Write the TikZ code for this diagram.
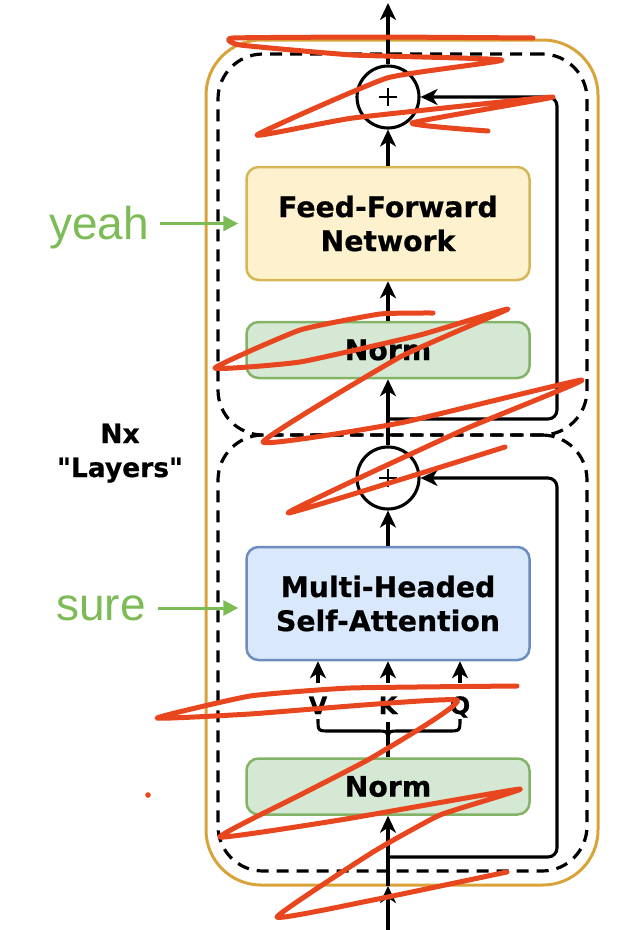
\documentclass[tikz,border=0pt]{standalone}
\usepackage{fontspec}
\newfontfamily\boxfont{DejaVu Sans}[BoldFeatures={FakeBold=0.6}]
\newfontfamily\lblfont{Liberation Sans}
\usetikzlibrary{arrows.meta}
\definecolor{goldc}{HTML}{D9A33A}
\definecolor{yfill}{HTML}{FDF2CD}
\definecolor{ydraw}{HTML}{D6B656}
\definecolor{gfill}{HTML}{D5E8D4}
\definecolor{gdraw}{HTML}{82B366}
\definecolor{bfill}{HTML}{DAE8FC}
\definecolor{bdraw}{HTML}{6C8EBF}
\definecolor{lgreen}{HTML}{7DBB57}
\definecolor{scrib}{HTML}{E8461F}
\begin{document}
\begin{tikzpicture}[x=1pt,y=-1pt,
  arr/.style={line width=3.1pt,-{Stealth[length=17pt,width=16pt,inset=5pt]}},
  ln/.style={line width=3.1pt},
  garr/.style={line width=3pt,draw=lgreen,-{Triangle[length=15pt,width=15pt,fill=lgreen]}},
  boxbase/.style={rounded corners=12pt,line width=2.5pt,minimum width=283pt,inner sep=0pt,align=center,font=\boxfont\bfseries\fontsize{28.3}{34}\selectfont},
  ffnbox/.style={boxbase,fill=yfill,draw=ydraw,minimum height=113pt},
  normbox/.style={boxbase,fill=gfill,draw=gdraw,minimum height=56pt},
  attbox/.style={boxbase,fill=bfill,draw=bdraw,minimum height=113pt},
  plusnode/.style={circle,draw,line width=3.1pt,minimum size=62pt,inner sep=0pt},
  dashbox/.style={draw=black,line width=3.2pt,dash pattern=on 12pt off 8pt,rounded corners=45pt,minimum width=369pt,inner sep=0pt},
  outerbox/.style={draw=goldc,line width=3pt,rounded corners=55pt,inner sep=0pt},
  qkv/.style={font=\boxfont\bfseries\fontsize{24}{24}\selectfont,anchor=base,inner sep=0pt},
  sidetxt/.style={font=\boxfont\bfseries\fontsize{26.5}{26.5}\selectfont,anchor=base,inner sep=0pt},
  greentxt/.style={font=\lblfont\fontsize{46}{46}\selectfont,text=lgreen,anchor=base east,inner sep=0pt},
  scribble/.style={draw=scrib,line width=5pt,line cap=round,line join=round}
]
\useasboundingbox (0,0) rectangle (630,930);

% containers
\node[outerbox, minimum width=392pt, minimum height=845pt] (outer) at (402,462.5) {};
\node[dashbox, minimum height=381pt] (upper) at (402.5,244.5) {};
\node[dashbox, minimum height=436pt] (lower) at (402.5,653) {};

% blocks
\node[ffnbox] (ffn) at (388,223.5) {Feed-Forward\\Network};
\node[normbox] (norm2) at (388,350) {Norm};
\node[attbox] (mhsa) at (388,603.5) {Multi-Headed\\Self-Attention};
\node[normbox] (norm1) at (388,786.5) {Norm};
\node[plusnode] (pU) at (388,97) {};
\node[plusnode] (pL) at (388,478) {};
\foreach \p in {pU,pL}{
  \draw[line width=2.8pt] ([xshift=-9pt]\p.center) -- ([xshift=9pt]\p.center);
  \draw[line width=2.8pt] ([yshift=-9pt]\p.center) -- ([yshift=9pt]\p.center);
}

% coordinates
\coordinate (outtop) at (388,3);
\coordinate (inbot) at (388,932);
\coordinate (inmid) at (388,886);
\coordinate (rU) at (388,419);
\coordinate (cU) at (557,97);
\coordinate (rL) at (388,857);
\coordinate (cL) at (557,478);
\coordinate (vS) at (318,683);
\coordinate (kS) at (388,683);
\coordinate (qS) at (460,683);
\coordinate (kB) at (388,722);

% main flow
\draw[arr] (pU.north) -- (outtop);
\draw[arr] (ffn.north) -- (pU.south);
\draw[arr] (norm2.north) -- (ffn.south);
\draw[arr] (pL.north) -- (norm2.south);
\draw[arr] (mhsa.north) -- (pL.south);
\draw[arr] (inbot) -- (inmid);
\draw[arr] (inmid) -- (norm1.south);

% residuals
\draw[arr, rounded corners=9pt] (rU) -| (cU) -- (pU.east);
\draw[arr, rounded corners=9pt] (rL) -| (cL) -- (pL.east);

% V K Q
\draw[arr] (vS) -- (vS |- mhsa.south);
\draw[arr] (kS) -- (kS |- mhsa.south);
\draw[arr] (qS) -- (qS |- mhsa.south);
\node[qkv] (vl) at (318,714) {V};
\node[qkv] (kl) at (388,714) {K};
\node[qkv] (ql) at (460,714) {Q};
\draw[ln] (norm1.north) -- (kB);
\draw[ln] (318,719) .. controls (318,731) and (318,731) .. (330,731) -- (376,731)
   .. controls (388,731) and (388,731) .. (388,742)
   .. controls (388,731) and (388,731) .. (400,731) -- (448,731)
   .. controls (460,731) and (460,731) .. (460,719);

% side labels
\node[greentxt] (yeah) at (149,239) {yeah};
\node[greentxt] (sure) at (146,620) {sure};
\draw[garr, shorten <=11pt, shorten >=7pt] (yeah.east |- ffn.west) -- (ffn.west);
\draw[garr, shorten <=12pt, shorten >=7pt] ([yshift=-4.5pt]sure.east |- mhsa.west) -- ([yshift=-4.5pt]mhsa.west);
\node[sidetxt] (nx) at (120,443) {Nx};
\node[sidetxt] (layers) at (120,477) {"Layers"};

% red scribbles
\draw[scribble] plot[smooth, tension=0.25] coordinates {
 (533,38) (380,37) (233,38) (240,45) (353,55) (502,60) (387,78) (257,135)
 (353,118) (553,97) (412,123) (488,131)};
\draw[scribble] plot[smooth, tension=0.25] coordinates {
 (433,313) (380,314) (300,330) (215,368) (300,362) (420,335) (508,309)
 (400,357) (263,442) (400,423) (582,380) (463,430) (288,513) (505,447)};
\draw[scribble] plot[smooth, tension=0.25] coordinates {
 (517,686) (350,688) (250,696) (157,718) (250,714) (457,700)
 (373,757) (300,795) (220,837) (340,820) (520,789)
 (440,815) (373,852) (277,917) (373,900) (507,872)};
\fill[scrib] (148,795) circle (2.8pt);
\end{tikzpicture}
\end{document}
